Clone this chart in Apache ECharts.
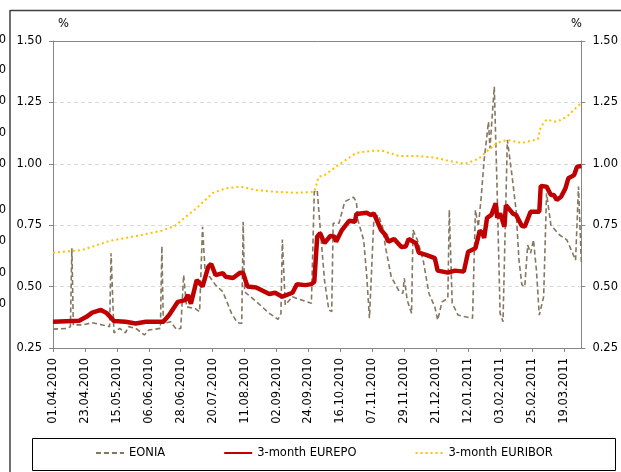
<!DOCTYPE html>
<html>
<head>
<meta charset="utf-8">
<script src="https://cdn.jsdelivr.net/npm/echarts@6/dist/echarts.min.js"></script>
<style>
html, body { margin: 0; padding: 0; background: #fff; }
#chart { width: 621px; height: 472px; }
</style>
</head>
<body>
<div id="chart"></div>
<script>
// daily calendar from 01.04.2010, 365 days
var dayCount = 365;
var yTicks = [0.25, 0.5, 0.75, 1.0, 1.25, 1.5];

// [day index, rate %]
var eonia = [
	[0, 0.327], [10, 0.33], [12, 0.337], [13, 0.656], [14, 0.344], [20, 0.344], [27, 0.353], [34, 0.344],
	[39, 0.337], [40, 0.636], [42, 0.312], [46, 0.33], [50, 0.312], [52, 0.337], [57, 0.33], [63, 0.303],
	[66, 0.323], [74, 0.33], [75, 0.665], [76, 0.35], [81, 0.357], [85, 0.326], [88, 0.33], [90, 0.547],
	[92, 0.418], [98, 0.41], [101, 0.398], [103, 0.744], [105, 0.54], [108, 0.54], [112, 0.506], [117, 0.479],
	[123, 0.391], [127, 0.353], [130, 0.35], [131, 0.764], [132, 0.479], [140, 0.439], [149, 0.391], [155, 0.367],
	[157, 0.39], [158, 0.692], [160, 0.425], [165, 0.459], [168, 0.452], [178, 0.432], [180, 0.886], [182, 0.893],
	[184, 0.744], [187, 0.527], [190, 0.405], [192, 0.398], [193, 0.758], [197, 0.758], [201, 0.846], [207, 0.864],
	[209, 0.846], [210, 0.771], [214, 0.69], [216, 0.554], [218, 0.371], [219, 0.377], [221, 0.771], [224, 0.792],
	[227, 0.744], [229, 0.662], [233, 0.54], [238, 0.486], [241, 0.472], [242, 0.534], [244, 0.445], [247, 0.391],
	[248, 0.73], [251, 0.69], [255, 0.608], [259, 0.472], [263, 0.418], [265, 0.364], [268, 0.438], [272, 0.452],
	[273, 0.812], [275, 0.433], [279, 0.384], [284, 0.377], [289, 0.371], [291, 0.812], [293, 0.744], [295, 0.866],
	[297, 1.015], [300, 1.171], [301, 1.063], [304, 1.314], [306, 0.88], [308, 0.391], [310, 0.357], [311, 0.608],
	[313, 1.097], [316, 0.961], [319, 0.812], [321, 0.608], [323, 0.507], [325, 0.50], [327, 0.669], [329, 0.636],
	[331, 0.69], [333, 0.568], [335, 0.384], [338, 0.459], [340, 0.88], [343, 0.75], [349, 0.71], [354, 0.69],
	[360, 0.608], [362, 0.907], [364, 0.595]
];

var eurepo = [
	[0, 0.357], [18, 0.361], [23, 0.377], [27, 0.394], [33, 0.405], [37, 0.392], [42, 0.36], [50, 0.357],
	[57, 0.35], [64, 0.357], [76, 0.357], [80, 0.384], [86, 0.438], [91, 0.445], [93, 0.466], [95, 0.43],
	[99, 0.527], [103, 0.50], [107, 0.581], [109, 0.592], [112, 0.547], [117, 0.555], [119, 0.54], [124, 0.535],
	[129, 0.557], [131, 0.555], [134, 0.50], [140, 0.496], [149, 0.47], [153, 0.475], [158, 0.459], [165, 0.475],
	[168, 0.51], [174, 0.506], [178, 0.51], [180, 0.52], [182, 0.703], [184, 0.718], [187, 0.677], [191, 0.706],
	[194, 0.703], [195, 0.683], [199, 0.73], [204, 0.768], [208, 0.764], [209, 0.796], [216, 0.801], [219, 0.792],
	[221, 0.798], [226, 0.73], [229, 0.71], [231, 0.683], [235, 0.694], [240, 0.661], [243, 0.663], [245, 0.694],
	[250, 0.677], [252, 0.638], [257, 0.629], [263, 0.616], [265, 0.565], [272, 0.557], [277, 0.565], [283, 0.561],
	[286, 0.642], [291, 0.656], [294, 0.728], [296, 0.717], [297, 0.698], [299, 0.78], [302, 0.792], [305, 0.839],
	[306, 0.78], [308, 0.798], [311, 0.744], [312, 0.832], [317, 0.796], [319, 0.792], [323, 0.747], [325, 0.744],
	[329, 0.805], [335, 0.805], [336, 0.91], [340, 0.907], [343, 0.873], [345, 0.873], [347, 0.853], [350, 0.866],
	[353, 0.90], [355, 0.941], [359, 0.954], [361, 0.988], [364, 0.991]
];

var euribor = [
	[0, 0.638], [20, 0.649], [39, 0.686], [61, 0.71], [75, 0.728], [84, 0.747], [92, 0.787], [99, 0.82],
	[110, 0.881], [119, 0.90], [129, 0.907], [140, 0.893], [153, 0.886], [167, 0.882], [180, 0.886], [183, 0.947],
	[187, 0.954], [200, 1.009], [209, 1.045], [221, 1.053], [227, 1.053], [238, 1.032], [250, 1.032], [263, 1.025],
	[275, 1.009], [284, 1.0], [293, 1.02], [300, 1.056], [306, 1.086], [313, 1.097], [323, 1.085], [334, 1.10],
	[336, 1.15], [340, 1.18], [347, 1.171], [354, 1.192], [361, 1.232], [364, 1.247]
];

// cut-off labels of the neighbouring chart at the left edge
var edgeLabelY = [40, 70, 101, 133, 164, 210, 241, 273, 304];

function pad(n) {
	return n < 10 ? '0' + n : '' + n;
}

var dates = [];
for (var i = 0; i < dayCount; i++) {
	var d = new Date(2010, 3, 1 + i);
	dates.push(pad(d.getDate()) + '.' + pad(d.getMonth() + 1) + '.' + d.getFullYear());
}

var font = 'DejaVu Sans';
var axisGray = '#868686';

var chart = echarts.init(document.getElementById('chart'));

var graphics = [
	{ type: 'line', shape: { x1: 10, y1: 10.5, x2: 621, y2: 10.5 }, style: { stroke: '#404040', lineWidth: 1.5 } },
	{ type: 'line', shape: { x1: 10, y1: 10, x2: 10, y2: 472 }, style: { stroke: '#404040', lineWidth: 1.5 } },
	// legend frame
	{ type: 'rect', shape: { x: 32.5, y: 438.5, width: 583, height: 32 }, style: { fill: null, stroke: '#000', lineWidth: 1 } },
	{ type: 'text', left: 58, top: 18, style: { text: '%', font: '11.5px ' + font, fill: '#000' } },
	{ type: 'text', left: 571, top: 18, style: { text: '%', font: '11.5px ' + font, fill: '#000' } }
];
edgeLabelY.forEach(function (y) {
	graphics.push({
		type: 'text', x: 6, y: y,
		style: { text: '0', font: '11.5px ' + font, fill: '#000', align: 'right', verticalAlign: 'middle' }
	});
});

var yAxisBase = {
	type: 'value',
	min: yTicks[0],
	max: yTicks[yTicks.length - 1],
	interval: 0.25,
	axisLine: { show: true, lineStyle: { color: axisGray } },
	axisTick: { show: true, length: 4, lineStyle: { color: axisGray } },
	axisLabel: {
		color: '#000', fontFamily: font, fontSize: 11.5, margin: 11,
		formatter: function (v) { return v.toFixed(2); }
	}
};

var option = {
	animation: false,
	textStyle: { fontFamily: font },
	grid: { left: 53, right: 33.5, top: 41, bottom: 124, containLabel: false },
	graphic: graphics,
	legend: {
		left: 95, top: 447,
		padding: 0,
		itemGap: 58, itemWidth: 28, itemHeight: 14,
		itemStyle: { opacity: 0 },
		textStyle: { color: '#000', fontFamily: font, fontSize: 11.5 },
		data: ['EONIA', '3-month EUREPO', '3-month EURIBOR']
	},
	xAxis: [{
		type: 'category',
		data: dates,
		boundaryGap: false,
		axisLine: { lineStyle: { color: axisGray } },
		axisTick: { interval: 21, length: 4, lineStyle: { color: axisGray } },
		axisLabel: { interval: 21, rotate: 90, margin: 10, color: '#000', fontFamily: font, fontSize: 11.5 },
		splitLine: { show: false }
	}, {
		type: 'category',
		data: dates,
		position: 'top',
		boundaryGap: false,
		axisLine: { show: true, lineStyle: { color: axisGray } },
		axisTick: { show: false },
		axisLabel: { show: false },
		splitLine: { show: false }
	}],
	yAxis: [
		Object.assign({}, yAxisBase, {
			position: 'left',
			splitLine: { show: true, showMaxLine: false, showMinLine: false, lineStyle: { color: '#d9d9d9', type: [4, 3] } }
		}),
		Object.assign({}, yAxisBase, {
			position: 'right',
			splitLine: { show: false }
		})
	],
	series: [{
		name: 'EONIA',
		type: 'line',
		data: eonia,
		symbol: 'none',
		color: '#857660',
		lineStyle: { color: '#857660', width: 1.6, type: [5, 3] },
		z: 2
	}, {
		name: '3-month EUREPO',
		type: 'line',
		data: eurepo,
		symbol: 'none',
		color: '#c00000',
		lineStyle: { color: '#c00000', width: 4.5 },
		z: 3
	}, {
		name: '3-month EURIBOR',
		type: 'line',
		data: euribor,
		symbol: 'none',
		color: '#ffc000',
		lineStyle: { color: '#ffc000', width: 2, type: [2, 3] },
		z: 4
	}]
};

chart.setOption(option);
</script>
</body>
</html>
